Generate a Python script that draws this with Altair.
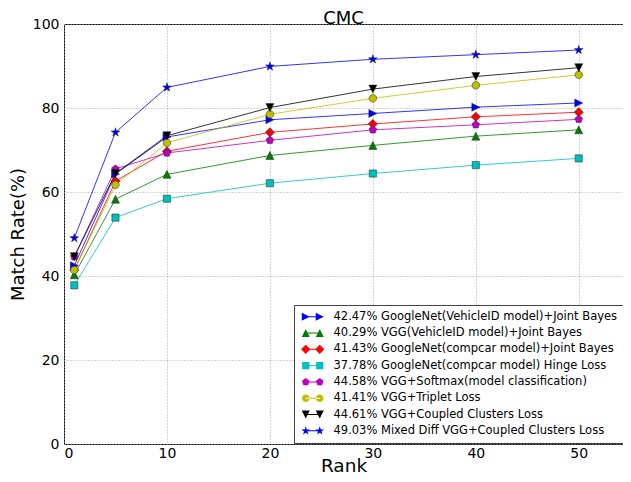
import math
import altair as alt
import pandas as pd

ranks = [1, 5, 10, 20, 30, 40, 50]

series_names = [
    "42.47% GoogleNet(VehicleID model)+Joint Bayes",
    "40.29% VGG(VehicleID model)+Joint Bayes",
    "41.43% GoogleNet(compcar model)+Joint Bayes",
    "37.78% GoogleNet(compcar model) Hinge Loss",
    "44.58% VGG+Softmax(model classification)",
    "41.41% VGG+Triplet Loss",
    "44.61% VGG+Coupled Clusters Loss",
    "49.03% Mixed Diff VGG+Coupled Clusters Loss",
]

googlenet_vid_jb = [42.47, 64.3, 73.1, 77.2, 78.7, 80.2, 81.2]
vgg_vid_jb = [40.29, 58.3, 64.2, 68.7, 71.1, 73.3, 74.8]
googlenet_cc_jb = [41.43, 62.6, 69.7, 74.2, 76.2, 77.9, 79.0]
googlenet_cc_hinge = [37.78, 53.9, 58.4, 62.1, 64.4, 66.4, 68.0]
vgg_softmax = [44.58, 65.5, 69.3, 72.3, 74.8, 76.0, 77.3]
vgg_triplet = [41.41, 61.7, 71.7, 78.5, 82.3, 85.4, 87.9]
vgg_ccl = [44.61, 64.4, 73.4, 80.1, 84.5, 87.5, 89.6]
mixed_vgg_ccl = [49.03, 74.2, 84.9, 89.9, 91.6, 92.7, 93.8]

all_values = [googlenet_vid_jb, vgg_vid_jb, googlenet_cc_jb, googlenet_cc_hinge,
              vgg_softmax, vgg_triplet, vgg_ccl, mixed_vgg_ccl]

colors = ["#0000ff", "#008000", "#ff0000", "#00bfbf",
          "#bf00bf", "#bfbf00", "#000000", "#0000ff"]

x_ticks = [0, 10, 20, 30, 40, 50]
y_ticks = [0, 20, 40, 60, 80, 100]

rows = []
for name, vals in zip(series_names, all_values):
    for r, v in zip(ranks, vals):
        rows.append({"series": name, "rank": r, "rate": v})
df = pd.DataFrame(rows)


# ---- marker geometry (unit coordinates) ----
def poly_pts(n, r, start_deg, inner=None):
    pts = []
    k = n * 2 if inner else n
    for i in range(k):
        a = math.radians(start_deg + i * 360.0 / k)
        rr = r if (inner is None or i % 2 == 0) else inner
        pts.append((rr * math.cos(a), rr * math.sin(a)))
    return pts


def pts_path(pts, dx=0.0, s=1.0):
    return "M" + " L".join(f"{dx + x * s:.3f},{y * s:.3f}" for x, y in pts) + " Z"


def circle_path(dx=0.0, r=1.0):
    return (f"M{dx - r:.3f},0 A{r},{r} 0 1 0 {dx + r:.3f},0 "
            f"A{r},{r} 0 1 0 {dx - r:.3f},0 Z")


star_pts = poly_pts(5, 1.15, -90, inner=0.45)
pent_pts = poly_pts(5, 1.0, -90)
tri_right = [(1, 0), (-1, 1), (-1, -1)]
tri_up = [(0, -1), (1, 1), (-1, 1)]
tri_down = [(-1, -1), (1, -1), (0, 1)]
diamond = [(0, -1.15), (1.15, 0), (0, 1.15), (-1.15, 0)]
square = [(-0.9, -0.9), (0.9, -0.9), (0.9, 0.9), (-0.9, 0.9)]

marker_defs = [("p", tri_right), ("p", tri_up), ("p", diamond), ("p", square),
               ("p", pent_pts), ("c", None), ("p", tri_down), ("p", star_pts)]

plot_shapes = []
legend_shapes = []
gap = 3.5
for kind, pts in marker_defs:
    if kind == "c":
        single = circle_path(0, 0.95)
        pair = circle_path(0, 0.95) + " " + circle_path(gap, 0.95)
    else:
        single = pts_path(pts)
        pair = pts_path(pts, 0) + " " + pts_path(pts, gap)
    line = f"M0,-0.13 L{gap},-0.13 L{gap},0.13 L0,0.13 Z"
    plot_shapes.append(single)
    legend_shapes.append(pair + " " + line)

color_scale = alt.Scale(domain=series_names, range=colors)

base = alt.Chart(df).encode(
    x=alt.X("rank:Q", scale=alt.Scale(domain=[0, 54.3], nice=False),
            axis=alt.Axis(values=x_ticks, title="Rank", grid=True)),
    y=alt.Y("rate:Q", scale=alt.Scale(domain=[0, 100], nice=False),
            axis=alt.Axis(values=y_ticks, title="Match Rate(%)", grid=True)),
)

lines = base.mark_line(strokeWidth=1, opacity=0.8).encode(
    color=alt.Color("series:N", scale=color_scale, legend=None),
    detail="series:N",
    order="rank:Q",
)

points = base.mark_point(filled=True, size=64, stroke="#222222",
                         strokeWidth=0.5, opacity=1).encode(
    color=alt.Color("series:N", scale=color_scale, legend=None),
    shape=alt.Shape("series:N", scale=alt.Scale(domain=series_names, range=plot_shapes),
                    legend=None),
)

legend_layer = base.mark_point(filled=True, size=64, opacity=0).encode(
    color=alt.Color("series:N", scale=color_scale,
                    legend=alt.Legend(title=None, orient="none", legendX=230, legendY=281,
                                      symbolOpacity=1, symbolStrokeWidth=0)),
    shape=alt.Shape("series:N", scale=alt.Scale(domain=series_names, range=legend_shapes),
                    legend=alt.Legend(title=None, orient="none", legendX=230, legendY=281,
                                      symbolOpacity=1, symbolStrokeWidth=0)),
)

chart = alt.layer(lines, points, legend_layer).resolve_scale(
    color="independent", shape="independent"
).properties(
    width=559, height=420,
    title=alt.TitleParams("CMC", fontSize=18, font="DejaVu Sans", fontWeight="normal",
                          offset=3, dy=14, color="black", frame="group"),
    autosize=alt.AutoSizeParams(type="none"),
    padding={"left": 56, "top": 16, "right": 0, "bottom": 30},
).configure_view(
    stroke="black", strokeWidth=1
).configure_axis(
    domain=False, ticks=False,
    labelFont="DejaVu Sans", labelFontSize=14, labelColor="black",
    titleFont="DejaVu Sans", titleFontWeight="normal", titleColor="black",
    gridColor="#aaaaaa", gridDash=[1, 2], gridWidth=1,
).configure_axisX(
    labelPadding=2, titleFontSize=18.5, titleBaseline="alphabetic", titleY=27,
).configure_axisY(
    labelPadding=5, titleFontSize=18, titleBaseline="alphabetic", titleX=-41,
).configure_legend(
    labelFont="DejaVu Sans", labelFontSize=11.5, labelColor="black",
    labelLimit=400, padding=6, rowPadding=3.3, labelOffset=22,
    strokeColor="#444444", fillColor="white", symbolSize=64,
)

chart.save("out.html", embed_options={"renderer": "svg", "actions": False})
